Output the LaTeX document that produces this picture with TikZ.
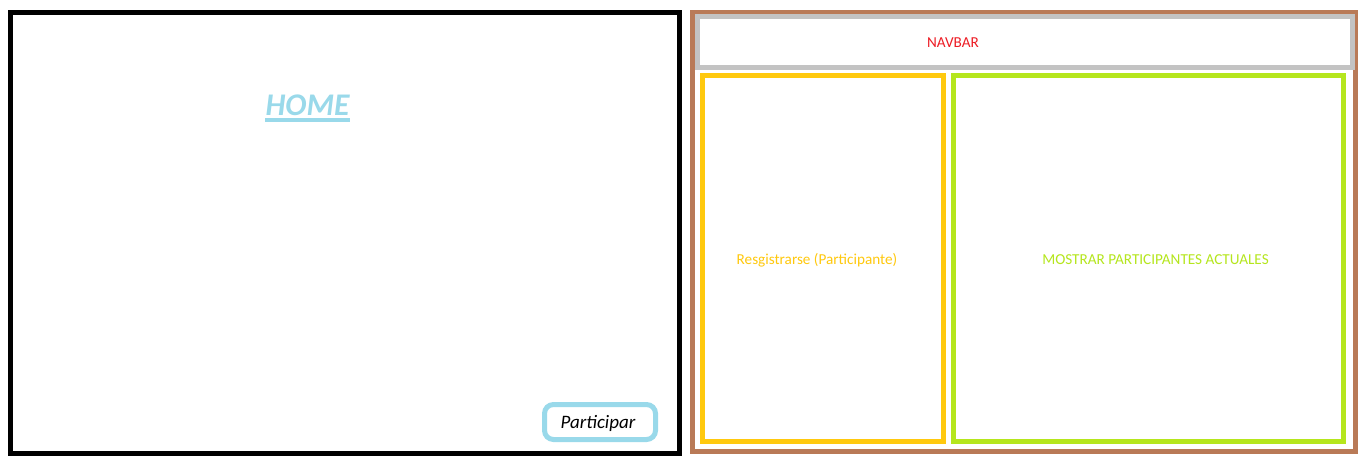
\documentclass[tikz,border=0pt]{standalone}
\usepackage{fontspec}
\setmainfont{Carlito}
\definecolor{lblue}{HTML}{99D9EA}
\definecolor{brownc}{HTML}{B97A57}
\definecolor{grayc}{HTML}{C3C3C3}
\definecolor{yellowc}{HTML}{FFC90E}
\definecolor{greenc}{HTML}{B5E61D}
\definecolor{redc}{HTML}{ED1C24}
\tikzset{
  frame/.style={line width=5pt},
  lbl/.style={inner sep=0pt, anchor=center},
  small/.style={font=\fontsize{15.2}{18}\selectfont},
}
\begin{document}
\begin{tikzpicture}[x=1pt,y=-1pt]
\useasboundingbox (0,0) rectangle (1360,460);
\fill[white] (0,0) rectangle (1360,460);
% left home frame
\draw[frame, black] (10.5,12.5) rectangle (679.5,453.5);
\node[lbl, text=lblue, font=\fontsize{31.5}{34}\selectfont\bfseries\itshape] (home) at (307.5,105) {HOME};
\coordinate (ulL) at (265,120);
\coordinate (ulR) at (350,120);
\draw[lblue, line width=3.5pt] (ulL) -- (ulR);
\draw[frame, lblue, rounded corners=9pt] (544.5,404.5) rectangle (655.5,439.5);
\node[lbl, font=\fontsize{19}{22}\selectfont\itshape] (part) at (598,423) {Participar};
% right page frame
\draw[frame, brownc] (692.5,12.5) rectangle (1355.5,451);
\draw[frame, grayc] (697.5,16.5) rectangle (1352.5,67.5);
\node[lbl, small, text=redc] (navbar) at (953,43) {NAVBAR};
\draw[frame, yellowc] (702.5,76) rectangle (943,441.5);
\node[lbl, small, text=yellowc] (reg) at (817,260) {Resgistrarse (Participante)};
\draw[frame, greenc] (953.5,75.5) rectangle (1343.5,441);
\node[lbl, small, text=greenc] (most) at (1155.5,260) {MOSTRAR PARTICIPANTES ACTUALES};
\end{tikzpicture}
\end{document}
